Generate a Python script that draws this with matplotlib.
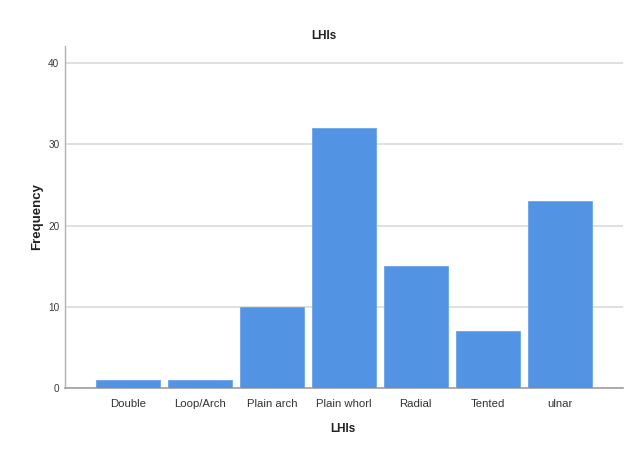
import matplotlib
matplotlib.use("Agg")
import matplotlib.pyplot as plt

categories = ["Double", "Loop/Arch", "Plain arch", "Plain whorl", "Radial", "Tented", "ulnar"]
frequencies = [1, 1, 10, 32, 15, 7, 23]
y_ticks = [0, 10, 20, 30, 40]

plt.rcParams["font.family"] = ["Liberation Sans", "DejaVu Sans"]

fig = plt.figure(figsize=(6.27, 4.5), dpi=100)
ax = fig.add_axes([65 / 627, 1 - 388 / 450, (623 - 65) / 627, (388 - 46) / 450])

x = list(range(len(categories)))
ax.bar(x, frequencies, width=0.89, color="#5393e3", edgecolor="#6aa3ea",
       linewidth=0.6, zorder=3)

ax.set_xlim(-0.876, 6.88)
ax.set_ylim(0, 42.1)
ax.set_yticks(y_ticks)
ax.set_yticklabels([str(v) for v in y_ticks], fontsize=7.2, color="#3a3a3a")
ax.set_xticks(x)
ax.set_xticklabels(categories, fontsize=8.2, color="#333333")
ax.tick_params(axis="both", length=0)
ax.tick_params(axis="x", pad=8)
ax.tick_params(axis="y", pad=4)

ax.grid(axis="y", color="#dadada", linewidth=1.2, zorder=0)
for side in ("top", "right"):
    ax.spines[side].set_visible(False)
ax.spines["left"].set_color("#b0b0b0")
ax.spines["left"].set_linewidth(1.0)
ax.spines["bottom"].set_color("#a0a0a0")
ax.spines["bottom"].set_linewidth(1.2)

fig.text(324 / 627, 1 - 36 / 450, "LHIs", ha="center", va="center",
         fontsize=8.5, fontweight="bold", color="#222222")
fig.text(343 / 627, 1 - 429 / 450, "LHIs", ha="center", va="center",
         fontsize=8.5, fontweight="bold", color="#222222")
fig.text(37 / 627, 1 - 217 / 450, "Frequency", ha="center", va="center",
         rotation=90, fontsize=9.5, fontweight="bold", color="#222222")

fig.savefig("out.png", dpi=100, facecolor="white")
